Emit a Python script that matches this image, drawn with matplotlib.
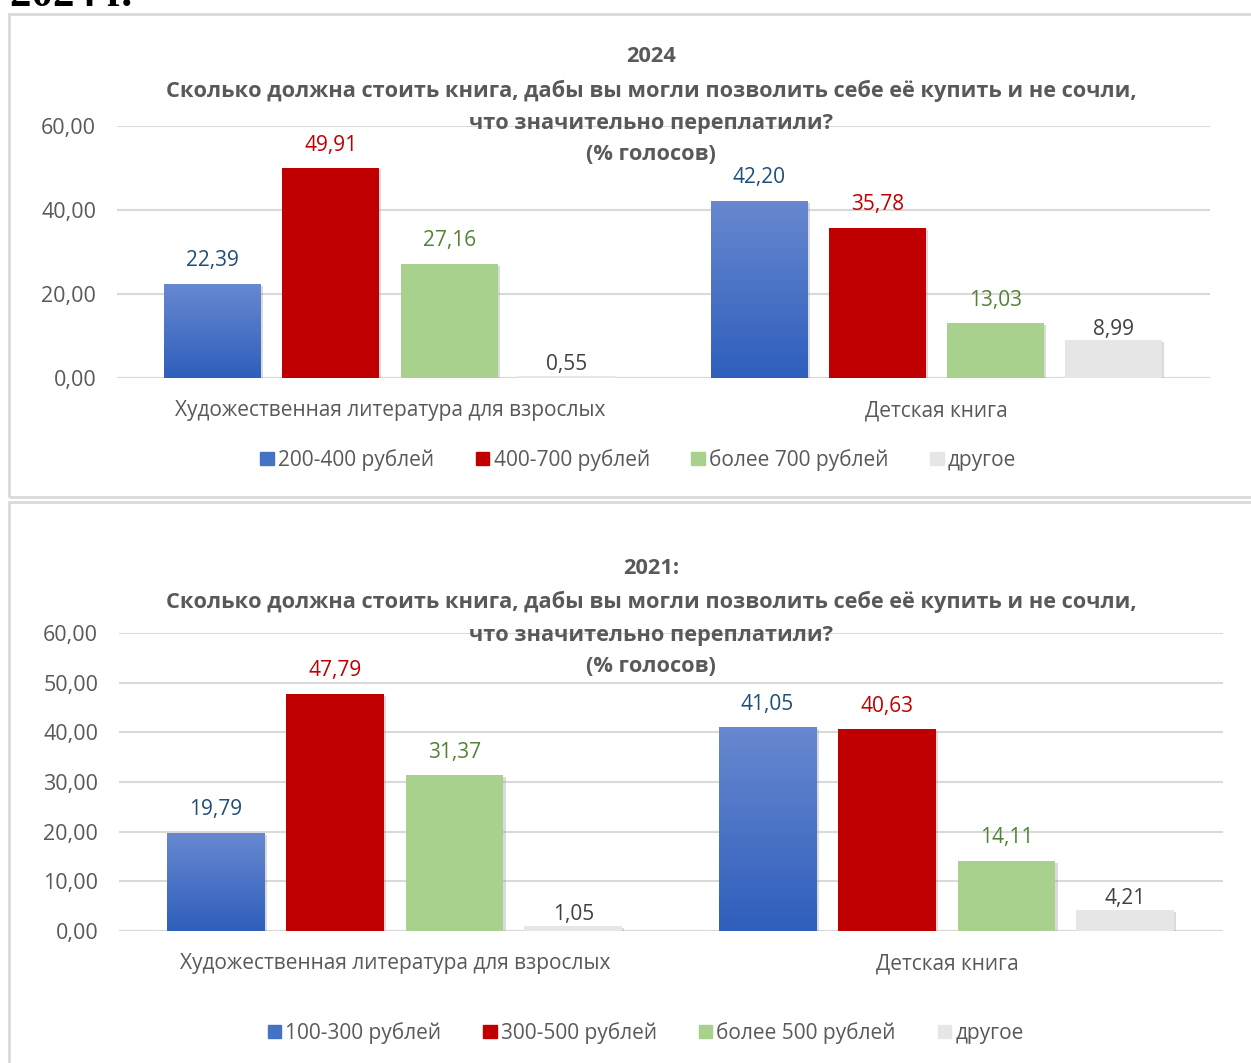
import numpy as np
import matplotlib.pyplot as plt
import matplotlib.patheffects as pe
from matplotlib.patches import Rectangle
from matplotlib.colors import LinearSegmentedColormap

plt.rcParams['font.family'] = ['Open Sans', 'DejaVu Sans']

# Data
categories = ['Художественная литература для взрослых', 'Детская книга']

labels_2024 = ['200-400 рублей', '400-700 рублей', 'более 700 рублей', 'другое']
low_2024 = [22.39, 42.20]
mid_2024 = [49.91, 35.78]
high_2024 = [27.16, 13.03]
other_2024 = [0.55, 8.99]
ticks_2024 = [0, 20, 40, 60]

labels_2021 = ['100-300 рублей', '300-500 рублей', 'более 500 рублей', 'другое']
low_2021 = [19.79, 41.05]
mid_2021 = [47.79, 40.63]
high_2021 = [31.37, 14.11]
other_2021 = [1.05, 4.21]
ticks_2021 = [0, 10, 20, 30, 40, 50, 60]

title_2024 = ['2024',
              'Сколько должна стоить книга, дабы вы могли позволить себе её купить и не сочли,',
              'что значительно переплатили?',
              '(% голосов)']
title_2021 = ['2021:',
              'Сколько должна стоить книга, дабы вы могли позволить себе её купить и не сочли,',
              'что значительно переплатили?',
              '(% голосов)']

bar_colors = ['#4472C4', '#C00000', '#A9D18E', '#E7E6E6']
text_colors = ['#1F4E79', '#C00000', '#548235', '#404040']
label_offsets = [9, 9, 9, 0.5]
grey = '#595959'

W, H = 1251, 1063
fig = plt.figure(figsize=(W / 100, H / 100), dpi=100)


def fx(px):
    return px / W


def fy(py):
    return 1 - py / H


def comma(v):
    return f'{v:.2f}'.replace('.', ',')


blue_grad = LinearSegmentedColormap.from_list('bl', ['#2E5FBC', '#6888D0'])


def draw_panel(rect, series, labels, ticks, title, title_y, legend_pos):
    left, right, y0, y60 = rect
    ax = fig.add_axes([fx(left), fy(y0), fx(right - left), fy(y60) - fy(y0)])
    x = np.arange(len(categories))
    offsets = [-0.325, -0.109, 0.108, 0.323]
    width = 0.177
    shadow = [pe.SimplePatchShadow(offset=(1.5, -1.5), shadow_rgbFace='#999999', alpha=0.35), pe.Normal()]
    for i, vals in enumerate(series):
        bars = ax.bar(x + offsets[i], vals, width, color=bar_colors[i], zorder=3)
        for b in bars:
            b.set_path_effects(shadow)
            if i == 0:
                # blue bars have a vertical gradient
                grad = np.linspace(0, 1, 100).reshape(-1, 1)
                im = ax.imshow(grad, cmap=blue_grad, origin='lower', aspect='auto',
                               extent=(b.get_x(), b.get_x() + b.get_width(), 0, b.get_height()),
                               zorder=3.5)
                im.set_clip_path(b)
        for xi, v in zip(x + offsets[i], vals):
            ax.annotate(comma(v), (xi, v), xytext=(0, label_offsets[i]), textcoords='offset points',
                        ha='center', va='bottom', fontsize=15, color=text_colors[i])
    ax.set_xlim(-0.5, 1.5)
    ax.set_ylim(0, 60)
    ax.set_yticks(ticks)
    ax.set_yticklabels([comma(t) for t in ticks])
    ax.set_xticks(x)
    ax.set_xticklabels(categories)
    ax.tick_params(axis='y', length=0, pad=15, labelsize=15.5, labelcolor=grey)
    ax.tick_params(axis='x', length=0, pad=16, labelsize=15, labelcolor=grey)
    ax.grid(axis='y', color='#D9D9D9', lw=1.5, zorder=0)
    for s in ax.spines.values():
        s.set_visible(False)
    ax.axhline(0, color='#D9D9D9', lw=1.5, zorder=2)

    for line, ty in zip(title, title_y):
        fig.text(fx(651), fy(ty), line, ha='center', va='center', fontsize=15.7,
                 fontweight='bold', color=grey)

    leg_handles = [Rectangle((0, 0), 1, 1, color=c) for c in bar_colors]
    ax.legend(leg_handles, labels, loc='center', bbox_to_anchor=legend_pos, ncol=4, frameon=False,
              fontsize=15, handlelength=0.65, handleheight=0.65, handletextpad=0.2,
              columnspacing=2.0, labelcolor=grey)
    return ax


draw_panel((117, 1210, 378, 126),
           [low_2024, mid_2024, high_2024, other_2024], labels_2024, ticks_2024,
           title_2024, [57, 91, 123, 155], (0.477, -0.325))
draw_panel((119, 1223, 931, 633),
           [low_2021, mid_2021, high_2021, other_2021], labels_2021, ticks_2021,
           title_2021, [568, 602, 635, 667], (0.477, -0.342))

# panel borders
fig.add_artist(Rectangle((fx(9), fy(497)), fx(1300), fy(14) - fy(497), fill=False,
                         edgecolor='#D9D9D9', lw=2, transform=fig.transFigure))
fig.add_artist(Rectangle((fx(9), fy(1100)), fx(1300), fy(502) - fy(1100), fill=False,
                         edgecolor='#D9D9D9', lw=2, transform=fig.transFigure))

# heading cut off at the top of the page
fig.text(fx(10), fy(6), '2024 г.', ha='left', va='baseline', fontsize=31, fontweight='bold',
         family='Liberation Serif', color='black')

fig.savefig('out.png', dpi=100)
